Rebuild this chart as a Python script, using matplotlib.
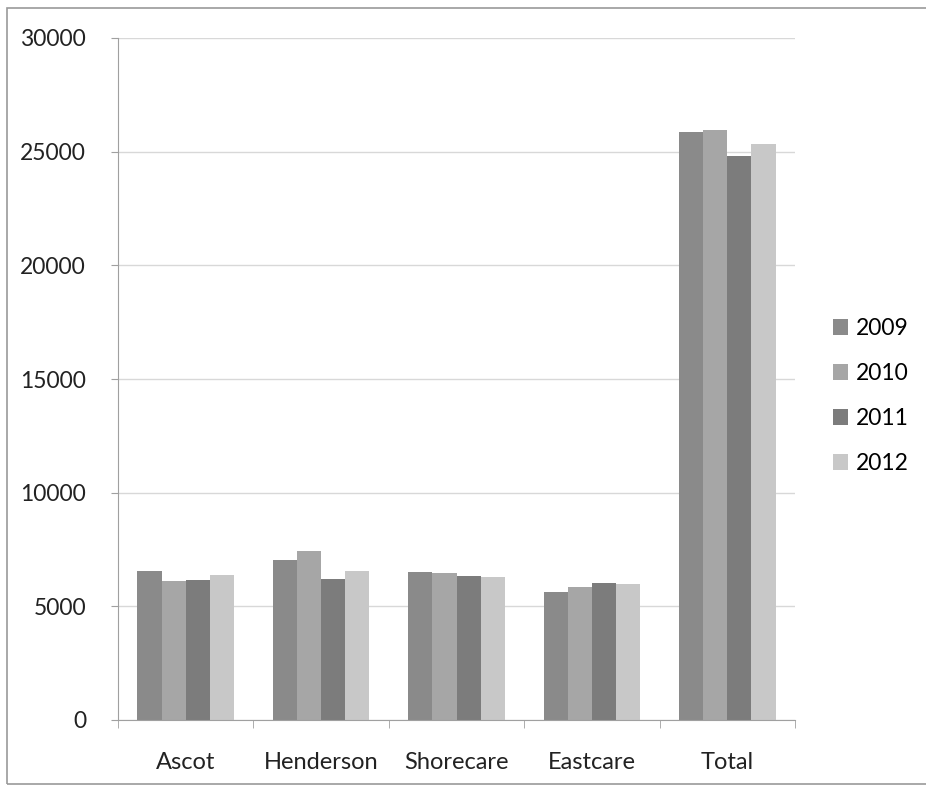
import matplotlib.pyplot as plt
import numpy as np
from matplotlib.patches import Rectangle

categories = ["Ascot", "Henderson", "Shorecare", "Eastcare", "Total"]
years = ["2009", "2010", "2011", "2012"]
values_2009 = [6550, 7050, 6500, 5650, 25880]
values_2010 = [6100, 7450, 6450, 5840, 25950]
values_2011 = [6150, 6200, 6320, 6010, 24830]
values_2012 = [6400, 6550, 6300, 5970, 25350]

series = [values_2009, values_2010, values_2011, values_2012]
colors = ["#8a8a8a", "#a6a6a6", "#7c7c7c", "#c8c8c8"]

plt.rcParams["font.family"] = ["Lato", "DejaVu Sans"]

fig = plt.figure(figsize=(9.26, 7.88), dpi=100)
ax = fig.add_axes([118 / 926, 1 - 720 / 788, (795 - 118) / 926, (720 - 38) / 788])

# Outer chart frame, as in the scanned Excel chart
fig.patches.append(Rectangle((7 / 926, 0.005), 0.995, 1 - 8 / 788 - 0.005,
                             transform=fig.transFigure, fill=False,
                             edgecolor="#9a9a9a", linewidth=1.2))

x = np.arange(len(categories))
bar_w = 0.178
for i, (vals, col, yr) in enumerate(zip(series, colors, years)):
    ax.bar(x + (i - 1.5) * bar_w, vals, width=bar_w, color=col, label=yr,
           edgecolor="none")

ax.set_xlim(-0.5, len(categories) - 0.5)
ax.set_ylim(0, 30000)
ax.set_yticks(np.arange(0, 30001, 5000))
ax.grid(axis="y", color="#d8d8d8", linewidth=1)
ax.set_axisbelow(True)

for side in ["top", "right"]:
    ax.spines[side].set_visible(False)
ax.spines["left"].set_color("#a0a0a0")
ax.spines["bottom"].set_color("#a0a0a0")

ax.set_xticks(x)
ax.set_xticklabels(categories, fontsize=17, color="#222222")
ax.set_xticks(np.arange(-0.5, len(categories), 1), minor=True)
ax.tick_params(axis="x", which="major", length=0, pad=23)
ax.tick_params(axis="x", which="minor", length=6, color="#a0a0a0")
ax.tick_params(axis="y", labelsize=16.5, labelcolor="#222222", length=5,
               color="#a0a0a0", pad=18)

leg = fig.legend(loc="center left", bbox_to_anchor=(833 / 926, 1 - 396 / 788),
                 frameon=False, fontsize=16.5, handlelength=0.65, handleheight=0.65,
                 labelspacing=1.05, handletextpad=0.35, borderpad=0,
                 borderaxespad=0)

fig.savefig("out.png", dpi=100)
